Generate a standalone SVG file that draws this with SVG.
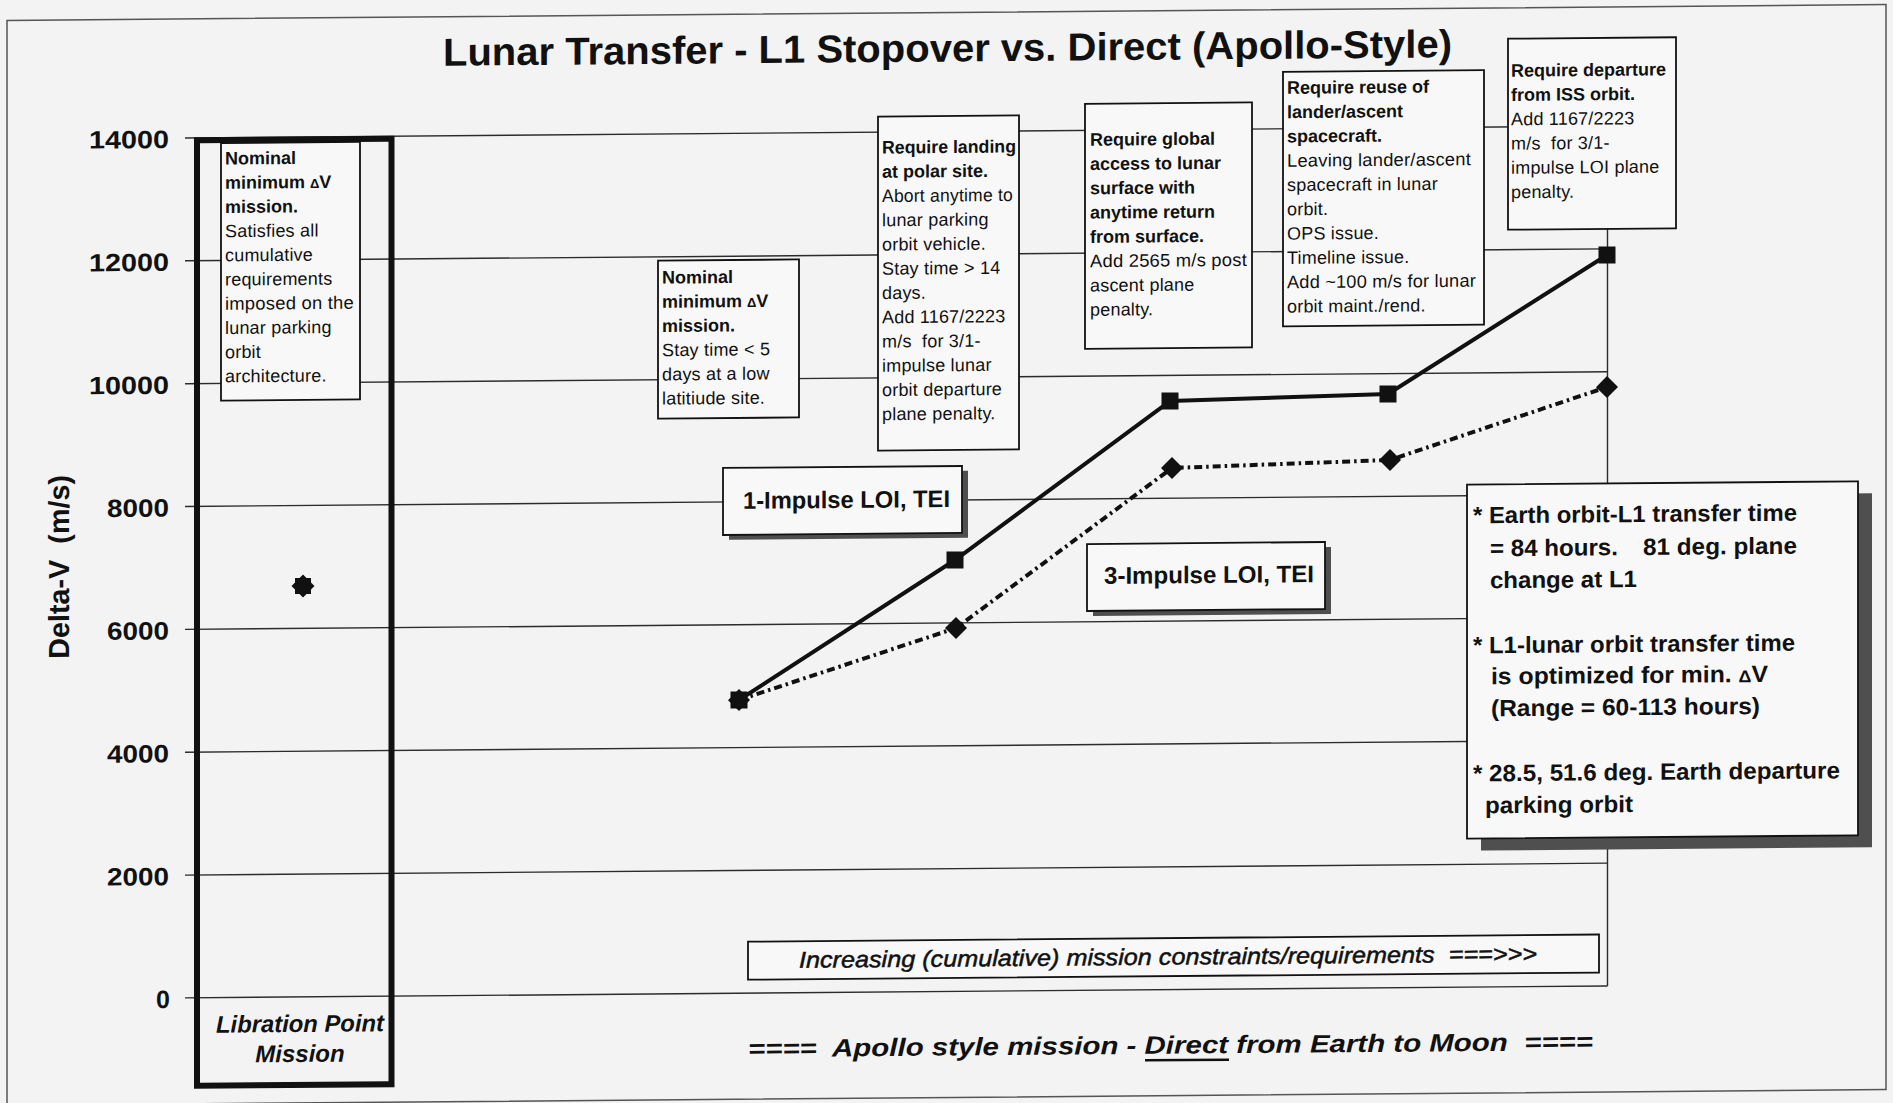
<svg xmlns="http://www.w3.org/2000/svg" width="1893" height="1103" viewBox="0 0 1893 1103">
  <style>
    text { font-family: "Liberation Sans", Arial, Helvetica, sans-serif; fill: #111; }
    .frame { fill: none; stroke: #555; stroke-width: 1.5; }
    .grid { stroke: #2b2b2b; stroke-width: 1.4; fill: none; }
    .box { fill: #f8f8f8; stroke: #111; stroke-width: 1.8; }
    .shadow { fill: #4f4f4f; }
    .bt { font-size: 18px; font-weight: bold; }
    .rt { font-size: 18px; letter-spacing: 0.2px; }
    .axis { font-size: 25px; font-weight: bold; text-anchor: end; }
    .lab { font-size: 24px; font-weight: bold; }
    .note { font-size: 23.5px; font-weight: bold; }
    .solid { stroke: #111; stroke-width: 4; fill: none; stroke-linejoin: round; }
    .dashdot { stroke: #111; stroke-width: 4; fill: none; stroke-dasharray: 8 4 2.5 4; }
    .mk { fill: #111; }
  </style>
  <defs>
    <rect id="sq" x="-8.5" y="-8.5" width="17" height="17"/>
    <path id="dia" d="M0 -11 L11 0 L0 11 L-11 0 Z"/>
    <path id="star" d="M-8 -8 H8 V8 H-8 Z M0 -11.5 L11.5 0 L0 11.5 L-11.5 0 Z" fill-rule="nonzero"/>
  </defs>

  <rect x="0" y="0" width="1893" height="1103" fill="#f3f3f3"/>

  <!-- whole sheet is slightly sheared, as on the printed page -->
  <g transform="matrix(1 -0.0084 0 1 0 7.95)">
    <rect class="frame" x="7" y="12.5" width="1879" height="1085"/>

    <text id="title" x="443" y="61.5" font-size="39" font-weight="bold" textLength="1009" lengthAdjust="spacingAndGlyphs">Lunar Transfer - L1 Stopover vs. Direct (Apollo-Style)</text>

    <!-- value axis -->
    <g id="axis">
      <g class="grid">
        <line x1="185" y1="131.6" x2="1607.5" y2="131.6"/>
        <line x1="185" y1="254.4" x2="1607.5" y2="254.4"/>
        <line x1="185" y1="377.3" x2="1607.5" y2="377.3"/>
        <line x1="185" y1="500.1" x2="1607.5" y2="500.1"/>
        <line x1="185" y1="623.0" x2="1607.5" y2="623.0"/>
        <line x1="185" y1="745.8" x2="1607.5" y2="745.8"/>
        <line x1="185" y1="868.7" x2="1607.5" y2="868.7"/>
        <line x1="185" y1="991.5" x2="1607.5" y2="991.5"/>
        <line x1="1607.5" y1="131.6" x2="1607.5" y2="991.5"/>
      </g>
      <text class="axis" x="169" y="141.4" textLength="80" lengthAdjust="spacingAndGlyphs">14000</text>
      <text class="axis" x="169" y="264.2" textLength="80" lengthAdjust="spacingAndGlyphs">12000</text>
      <text class="axis" x="169" y="387.1" textLength="80" lengthAdjust="spacingAndGlyphs">10000</text>
      <text class="axis" x="169" y="509.9" textLength="62" lengthAdjust="spacingAndGlyphs">8000</text>
      <text class="axis" x="169" y="632.8" textLength="62" lengthAdjust="spacingAndGlyphs">6000</text>
      <text class="axis" x="169" y="755.6" textLength="62" lengthAdjust="spacingAndGlyphs">4000</text>
      <text class="axis" x="169" y="878.5" textLength="62" lengthAdjust="spacingAndGlyphs">2000</text>
      <text class="axis" x="170" y="1001.3">0</text>
      <text transform="translate(69 559.5) rotate(-90)" text-anchor="middle" font-size="29" font-weight="bold" textLength="184" lengthAdjust="spacingAndGlyphs" xml:space="preserve">Delta-V  (m/s)</text>
    </g>

    <!-- libration point column -->
    <g id="libration-column">
      <rect x="197" y="134" width="194.5" height="945.5" fill="none" stroke="#111" stroke-width="6"/>
      <text class="lab" x="300" y="1026.5" text-anchor="middle" font-style="italic" textLength="168" lengthAdjust="spacingAndGlyphs">Libration Point</text>
      <text class="lab" x="300" y="1056.5" text-anchor="middle" font-style="italic">Mission</text>
    </g>

    <g id="note-libration">
      <rect class="box" x="221" y="137" width="139" height="257.5"/>
      <text class="bt" x="225" y="158.5">Nominal</text>
      <text class="bt" x="225" y="182.7">minimum <tspan font-size="13">Δ</tspan>V</text>
      <text class="bt" x="225" y="206.9">mission.</text>
      <text class="rt" x="225" y="231.1">Satisfies all</text>
      <text class="rt" x="225" y="255.3">cumulative</text>
      <text class="rt" x="225" y="279.5">requirements</text>
      <text class="rt" x="225" y="303.7" textLength="129" lengthAdjust="spacingAndGlyphs">imposed on the</text>
      <text class="rt" x="225" y="327.9">lunar parking</text>
      <text class="rt" x="225" y="352.1">orbit</text>
      <text class="rt" x="225" y="376.3">architecture.</text>
    </g>

    <g id="note-nominal">
      <rect class="box" x="658" y="258.2" width="141" height="158"/>
      <text class="bt" x="662" y="281.2">Nominal</text>
      <text class="bt" x="662" y="305.4">minimum <tspan font-size="13">Δ</tspan>V</text>
      <text class="bt" x="662" y="329.6">mission.</text>
      <text class="rt" x="662" y="353.8">Stay time &lt; 5</text>
      <text class="rt" x="662" y="378">days at a low</text>
      <text class="rt" x="662" y="402.2">latitiude site.</text>
    </g>

    <g id="note-polar">
      <rect class="box" x="878" y="116" width="141" height="334"/>
      <text class="bt" x="882" y="153" textLength="134" lengthAdjust="spacingAndGlyphs">Require landing</text>
      <text class="bt" x="882" y="177.2">at polar site.</text>
      <text class="rt" x="882" y="201.5" textLength="131" lengthAdjust="spacingAndGlyphs">Abort anytime to</text>
      <text class="rt" x="882" y="225.7">lunar parking</text>
      <text class="rt" x="882" y="250">orbit vehicle.</text>
      <text class="rt" x="882" y="274.2">Stay time &gt; 14</text>
      <text class="rt" x="882" y="298.5">days.</text>
      <text class="rt" x="882" y="322.7">Add 1167/2223</text>
      <text class="rt" x="882" y="347">m/s&#160; for 3/1-</text>
      <text class="rt" x="882" y="371.2">impulse lunar</text>
      <text class="rt" x="882" y="395.5">orbit departure</text>
      <text class="rt" x="882" y="419.7">plane penalty.</text>
    </g>

    <g id="note-global">
      <rect class="box" x="1085" y="105" width="167" height="245"/>
      <text class="bt" x="1090" y="146.9">Require global</text>
      <text class="bt" x="1090" y="171.2">access to lunar</text>
      <text class="bt" x="1090" y="195.5">surface with</text>
      <text class="bt" x="1090" y="219.8">anytime return</text>
      <text class="bt" x="1090" y="244.1">from surface.</text>
      <text class="rt" x="1090" y="268.4" textLength="157" lengthAdjust="spacingAndGlyphs">Add 2565 m/s post</text>
      <text class="rt" x="1090" y="292.7">ascent plane</text>
      <text class="rt" x="1090" y="317">penalty.</text>
    </g>

    <g id="note-reuse">
      <rect class="box" x="1283" y="74.7" width="201" height="254.5"/>
      <text class="bt" x="1287" y="96.7">Require reuse of</text>
      <text class="bt" x="1287" y="121">lander/ascent</text>
      <text class="bt" x="1287" y="145.3">spacecraft.</text>
      <text class="rt" x="1287" y="169.6" textLength="184" lengthAdjust="spacingAndGlyphs">Leaving lander/ascent</text>
      <text class="rt" x="1287" y="193.9">spacecraft in lunar</text>
      <text class="rt" x="1287" y="218.2">orbit.</text>
      <text class="rt" x="1287" y="242.5">OPS issue.</text>
      <text class="rt" x="1287" y="266.8">Timeline issue.</text>
      <text class="rt" x="1287" y="291.1" textLength="189" lengthAdjust="spacingAndGlyphs">Add ~100 m/s for lunar</text>
      <text class="rt" x="1287" y="315.4">orbit maint./rend.</text>
    </g>

    <g id="note-iss">
      <rect class="box" x="1508" y="43.4" width="168" height="191"/>
      <text class="bt" x="1511" y="81.4">Require departure</text>
      <text class="bt" x="1511" y="105.7">from ISS orbit.</text>
      <text class="rt" x="1511" y="130">Add 1167/2223</text>
      <text class="rt" x="1511" y="154.3">m/s&#160; for 3/1-</text>
      <text class="rt" x="1511" y="178.6">impulse LOI plane</text>
      <text class="rt" x="1511" y="202.9">penalty.</text>
    </g>

    <!-- series connectors -->
    <g id="connectors">
      <polyline class="solid" points="739,698.3 955,560.1 1170,402.9 1388,397.7 1607,260.5"/>
      <polyline class="dashdot" points="739,698.3 956,628.1 1172,469.9 1390,463.7 1607,392.6"/>
    </g>

    <!-- data points -->
    <g id="points" class="mk">
      <use href="#star" x="303" y="580.6"/>
      <use href="#sq" x="739" y="698.3"/>
      <use href="#dia" x="739" y="698.3"/>
      <use href="#sq" x="955" y="560.1"/>
      <use href="#sq" x="1170" y="402.9"/>
      <use href="#sq" x="1388" y="397.7"/>
      <use href="#sq" x="1607" y="260.5"/>
      <use href="#dia" x="956" y="628.1"/>
      <use href="#dia" x="1172" y="469.9"/>
      <use href="#dia" x="1390" y="463.7"/>
      <use href="#dia" x="1607" y="392.6"/>
    </g>

    <g id="label-1impulse">
      <rect class="shadow" x="729" y="471" width="239" height="67"/>
      <rect class="box" x="723" y="466.1" width="239" height="67"/>
      <text class="lab" x="743" y="507.1" textLength="207" lengthAdjust="spacingAndGlyphs">1-Impulse LOI, TEI</text>
    </g>

    <g id="label-3impulse">
      <rect class="shadow" x="1093" y="550.2" width="238" height="67"/>
      <rect class="box" x="1087" y="545.2" width="238" height="67"/>
      <text class="lab" x="1104" y="585.2" textLength="210" lengthAdjust="spacingAndGlyphs">3-Impulse LOI, TEI</text>
    </g>

    <g id="note-assumptions">
      <rect class="shadow" x="1481" y="501" width="391" height="354"/>
      <rect class="box" x="1467" y="489" width="391" height="354"/>
      <text class="note" x="1473" y="527.8" textLength="324" lengthAdjust="spacingAndGlyphs">* Earth orbit-L1 transfer time</text>
      <text class="note" x="1490" y="560.8" textLength="128" lengthAdjust="spacingAndGlyphs">= 84 hours.</text>
      <text class="note" x="1643" y="560.8" textLength="154" lengthAdjust="spacingAndGlyphs">81 deg. plane</text>
      <text class="note" x="1490" y="592.8" textLength="147" lengthAdjust="spacingAndGlyphs">change at L1</text>
      <text class="note" x="1473" y="657.8" textLength="322" lengthAdjust="spacingAndGlyphs">* L1-lunar orbit transfer time</text>
      <text class="note" x="1491" y="688.8" textLength="277" lengthAdjust="spacingAndGlyphs">is optimized for min. <tspan font-size="17">Δ</tspan>V</text>
      <text class="note" x="1491" y="720.8" textLength="269" lengthAdjust="spacingAndGlyphs">(Range = 60-113 hours)</text>
      <text class="note" x="1473" y="785.8" textLength="367" lengthAdjust="spacingAndGlyphs">* 28.5, 51.6 deg. Earth departure</text>
      <text class="note" x="1485" y="817.8" textLength="148" lengthAdjust="spacingAndGlyphs">parking orbit</text>
    </g>

    <g id="label-constraints">
      <rect class="box" x="748" y="940" width="851" height="38"/>
      <text x="799" y="966.5" font-size="23" font-style="italic" stroke="#111" stroke-width="0.5" textLength="738" lengthAdjust="spacingAndGlyphs" xml:space="preserve">Increasing (cumulative) mission constraints/requirements  ===&gt;&gt;&gt;</text>
    </g>

    <g id="label-apollo">
      <text x="748" y="1055.5" font-size="25" font-weight="bold" font-style="italic" textLength="845" lengthAdjust="spacingAndGlyphs" xml:space="preserve">====  Apollo style mission - Direct from Earth to Moon  ====</text>
      <line x1="1145" y1="1062" x2="1229" y2="1062" stroke="#111" stroke-width="2.5"/>
    </g>
  </g>
</svg>
